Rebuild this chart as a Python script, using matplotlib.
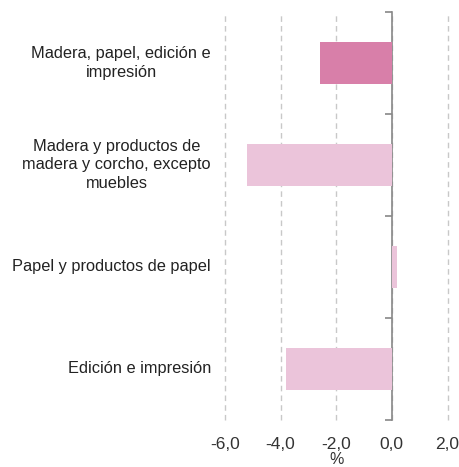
import matplotlib
matplotlib.use("Agg")
import matplotlib.pyplot as plt
from matplotlib.ticker import FuncFormatter

categorias = [
    "Madera, papel, edición e\nimpresión",
    "Madera y productos de\nmadera y corcho, excepto\nmuebles",
    "Papel y productos de papel",
    "Edición e impresión",
]
valores = [-2.6, -5.2, 0.2, -3.8]
colores = ["#d87fa9", "#ebc4da", "#ebc4da", "#ebc4da"]

plt.rcParams['font.family'] = ['Liberation Sans', 'DejaVu Sans']

fig = plt.figure(figsize=(4.59, 4.67), dpi=100)
ax = fig.add_axes([225 / 459, 1 - 420 / 467, (447.5 - 225) / 459, 408 / 467])

pos = list(range(len(categorias)))
ax.barh(pos, valores, height=0.41, color=colores, zorder=3)

ax.set_xlim(-6, 2)
ax.set_ylim(len(categorias) - 0.5, -0.5)
ax.set_xticks([-6, -4, -2, 0, 2])
ax.xaxis.set_major_formatter(FuncFormatter(lambda v, p: f"{v:.1f}".replace(".", ",")))
ax.grid(axis='x', color='#c8c8c8', linestyle=(0, (4, 3)), linewidth=1, zorder=0)
for gl in ax.get_xgridlines():
    gl.set_clip_on(False)

for s in ['top', 'right', 'bottom']:
    ax.spines[s].set_visible(False)
ax.spines['left'].set_position(('data', 0))
ax.spines['left'].set_color('#888888')
ax.spines['left'].set_linewidth(1.2)

# ticks del eje y entre categorias
ax.set_yticks([i - 0.5 for i in range(len(categorias) + 1)])
ax.set_yticklabels([])
ax.tick_params(axis='y', length=5, color='#888888', width=1.2, direction='out')
ax.tick_params(axis='x', length=0, labelsize=12.5, labelcolor='#333333', pad=12)

for i, c in enumerate(categorias):
    ax.text(-6.5, i, c, ha='right', va='center', multialignment='center',
            fontsize=11.8, color='#222222', linespacing=1.3)

ax.set_xlabel('%', fontsize=11.5, color='#333333', labelpad=0)

fig.savefig('out.png', dpi=100)
